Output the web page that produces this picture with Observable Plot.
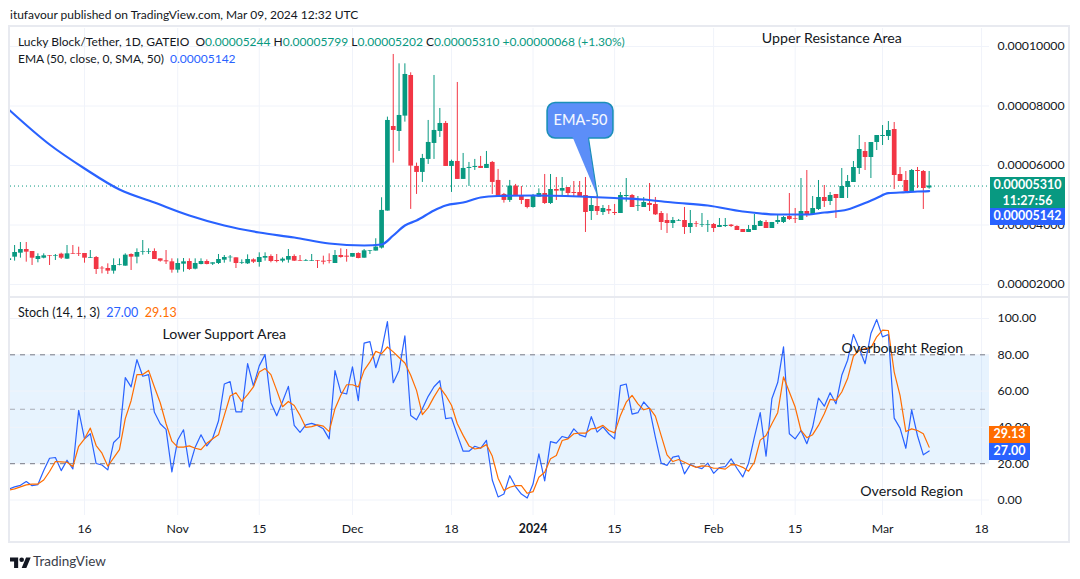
<!DOCTYPE html>
<html><head><meta charset="utf-8">
<script src="https://cdn.jsdelivr.net/npm/d3@7"></script>
<script src="https://cdn.jsdelivr.net/npm/@observablehq/plot@0.6"></script>
<style>
html,body{margin:0;padding:0;background:#fff}
#page{position:relative;width:1080px;height:579px;overflow:hidden;font-family:Lato,sans-serif;color:#131722;font-size:12px}
#page svg{position:absolute;left:0;overflow:visible;background:transparent}
.t{position:absolute;white-space:pre;line-height:16px}
.g{color:#089981}.b{color:#2962ff}.o{color:#ff6d00}
.frame{position:absolute;background:#e8eaf0}
.tag{position:absolute;color:#fff;text-align:center;font-weight:700;line-height:16px;font-size:12.5px}
</style></head><body><div id="page"></div>
<script>
// Prices in units of 1e-5 USDT, one value per day from 2023-10-03 to 2024-03-09
const opens=[2.807,2.919,3.053,3.177,3.109,2.841,2.885,2.975,2.953,3.020,
2.852,3.042,3.042,3.042,2.874,2.908,2.549,2.538,2.449,2.650,
2.617,3.009,2.919,3.087,3.087,3.109,2.863,2.796,2.762,2.482,
2.684,2.773,2.516,2.673,2.773,2.684,2.706,2.818,2.897,2.897,
2.706,2.695,2.829,2.740,2.885,2.941,2.807,2.785,2.818,2.941,
2.807,2.785,2.785,2.807,2.785,2.796,2.706,2.975,2.953,2.919,
3.042,2.885,3.121,3.124,3.224,4.468,7.312,7.144,7.660,9.026,
5.968,5.767,6.204,6.741,7.144,7.413,5.968,6.136,5.532,5.901,
5.935,5.968,5.901,6.103,5.498,5.028,4.826,5.308,4.992,4.858,
4.589,4.936,5.059,4.723,5.194,5.138,5.261,5.093,5.093,4.992,
4.454,4.622,4.421,4.522,4.421,4.387,4.958,4.992,4.634,4.589,
4.723,4.690,4.387,4.152,4.051,4.130,4.152,3.917,4.051,3.995,
3.995,4.018,3.917,3.950,3.995,3.950,3.850,3.749,3.816,3.950,
4.085,3.883,4.085,4.085,4.286,4.219,4.152,4.454,4.354,4.522,
4.925,4.790,5.026,4.891,5.261,5.429,5.899,6.470,6.269,6.773,
6.974,6.974,7.210,5.698,5.496,5.126,5.832,5.798,5.244];
const closes=[2.863,3.076,3.177,3.087,2.885,2.941,2.964,2.953,2.975,2.885,
3.031,3.020,3.020,2.885,2.897,2.505,2.527,2.449,2.639,2.673,
2.986,2.919,3.076,3.109,3.109,2.841,2.785,2.762,2.482,2.706,
2.762,2.505,2.706,2.773,2.673,2.729,2.841,2.908,2.919,2.706,
2.729,2.841,2.751,2.908,2.941,2.773,2.773,2.852,2.941,2.785,
2.785,2.807,2.807,2.785,2.751,2.773,2.975,2.908,2.919,3.042,
2.874,3.132,3.143,3.258,4.490,7.514,7.178,7.682,9.060,5.980,
5.767,6.237,6.775,7.178,7.413,5.968,6.136,5.532,5.901,5.935,
5.968,5.901,6.036,5.431,4.960,4.826,5.308,4.960,4.824,4.589,
4.970,5.059,4.723,5.194,5.138,5.227,5.059,5.059,4.958,4.421,
4.656,4.454,4.555,4.466,4.387,4.992,4.992,4.589,4.656,4.757,
4.656,4.342,4.085,4.051,4.152,4.152,3.917,4.051,4.029,4.018,
4.018,3.883,3.984,3.984,3.950,3.816,3.749,3.850,3.984,4.118,
3.883,4.085,4.152,4.253,4.186,4.197,4.454,4.320,4.555,4.925,
4.790,4.992,4.891,5.294,5.462,5.933,6.538,6.269,6.773,7.008,
7.008,7.176,5.664,5.462,5.126,5.832,5.798,5.227,5.310];
const highs=[2.919,3.311,3.412,3.412,3.109,3.031,3.031,2.975,3.009,3.053,
3.311,3.311,3.255,3.042,3.143,2.941,2.605,2.695,2.863,2.863,
3.031,3.031,3.199,3.479,3.199,3.199,2.863,3.143,2.863,2.863,
2.874,2.863,2.863,2.863,2.829,2.729,3.009,2.975,2.975,2.897,
2.829,2.997,2.863,3.065,3.065,2.997,3.009,2.897,3.177,2.997,
2.975,2.841,3.009,2.807,2.953,3.031,3.143,3.199,3.177,3.042,
3.065,3.177,3.143,3.538,4.916,7.626,9.732,9.418,9.418,9.116,
6.080,6.372,7.514,9.026,7.917,7.480,6.181,8.791,6.405,6.103,
6.204,6.304,6.472,6.136,5.868,5.061,5.498,5.364,5.294,4.858,
5.026,5.216,5.698,5.698,5.597,5.597,5.261,5.462,5.462,5.597,
4.891,4.992,4.656,4.656,4.690,5.093,5.563,5.026,4.958,4.925,
5.395,4.925,4.454,4.376,4.253,4.186,4.589,4.488,4.118,4.387,
4.152,4.051,4.219,4.219,4.018,3.973,3.850,3.984,4.354,4.152,
4.152,4.085,4.354,4.286,5.059,4.555,5.563,5.832,4.958,5.496,
5.328,5.093,5.026,5.899,5.664,6.134,7.008,6.773,6.773,7.008,
7.344,7.478,7.445,5.933,5.798,5.866,5.933,5.832,5.799];
const lows=[2.785,2.785,2.885,2.751,2.639,2.729,2.863,2.639,2.807,2.841,
2.841,3.009,2.941,2.717,2.874,2.337,2.359,2.337,2.348,2.628,
2.617,2.471,2.695,2.986,3.009,2.841,2.751,2.673,2.381,2.381,
2.415,2.471,2.493,2.661,2.661,2.639,2.673,2.717,2.751,2.538,
2.673,2.673,2.706,2.583,2.785,2.729,2.729,2.729,2.717,2.773,
2.773,2.773,2.773,2.538,2.661,2.695,2.706,2.885,2.751,2.919,
2.863,2.885,3.009,3.124,3.191,4.468,6.080,6.472,7.458,4.524,
5.028,5.431,6.036,6.204,6.943,5.968,5.095,5.532,5.532,5.296,
5.834,5.901,5.901,5.028,4.960,4.736,4.759,4.960,4.690,4.544,
4.566,4.936,4.690,4.690,4.824,4.958,4.958,4.958,4.958,3.749,
4.152,4.320,4.320,4.354,4.320,4.387,4.768,4.589,4.454,4.589,
4.454,4.320,3.816,3.715,3.883,4.118,3.682,3.715,3.917,3.917,
3.749,3.749,3.917,3.917,3.917,3.816,3.749,3.749,3.816,3.950,
3.883,3.883,4.018,4.051,4.152,4.051,4.152,4.253,4.354,4.488,
4.589,4.656,4.219,4.891,4.891,5.429,5.698,5.832,5.563,6.504,
6.672,6.840,5.194,5.462,5.059,5.126,5.227,4.522,5.202];
// EMA-50 read at selected days (day number counted from 2023-10-03)
const emaDays=[0,7,13,19,25,31,37,43,49,55,61,64,66,68,70,73,75,78,81,84,90,98,104,109,114,120,126,132,137,140,144,147,149,151,154,156,158];
const emaValues=[7.882,6.706,5.899,5.193,4.756,4.319,3.983,3.748,3.580,3.378,3.311,3.345,3.647,3.983,4.151,4.487,4.655,4.756,4.924,4.975,4.992,4.958,4.908,4.857,4.756,4.655,4.454,4.353,4.353,4.420,4.521,4.739,4.908,5.069,5.102,5.126,5.142];
// Stochastic %K and %D, one value per day
const stochK=[6.1,7.2,8.1,10.2,7.9,8.5,16.2,23.0,23.4,16.2,
21.9,17.1,49.4,33.7,36.5,20.1,19.3,16.6,31.7,34.8,
67.4,62.3,77.3,68.2,69.1,48.3,42.0,38.9,15.5,33.1,
38.7,18.2,29.1,35.9,29.8,34.0,43.5,63.9,65.2,48.6,
48.6,75.1,62.8,73.9,80.1,53.6,46.4,54.3,62.6,41.1,
37.2,41.4,42.2,41.1,39.2,33.7,71.3,59.3,58.4,73.3,
54.7,86.4,87.3,72.9,82.5,98.3,64.6,71.4,90.4,46.6,
44.2,50.3,57.1,62.4,65.7,44.8,45.3,35.9,26.9,26.9,
29.6,28.5,32.9,11.0,1.7,3.3,13.4,7.4,3.3,1.1,
8.8,25.4,10.5,32.2,31.3,35.0,34.1,39.2,35.9,34.8,
45.9,37.4,40.3,36.5,33.7,63.0,63.9,47.3,48.1,54.0,
50.3,34.6,20.3,19.1,23.6,24.3,14.4,19.5,18.2,17.3,
20.3,14.7,17.9,18.4,22.7,17.5,12.7,20.3,34.6,48.1,
24.1,55.8,64.7,84.4,36.5,33.7,38.3,31.0,40.2,56.2,
51.7,59.1,53.0,68.7,77.0,91.2,83.4,75.1,91.7,99.4,
89.9,91.2,45.1,39.6,28.5,49.7,35.4,24.9,27.0];
const stochD=[5.5,6.1,7.2,8.3,8.7,8.8,11.0,15.7,21.2,21.0,
20.8,18.4,29.6,33.7,39.6,30.0,25.8,18.6,23.2,27.8,
44.8,54.7,69.1,69.1,71.4,62.3,53.6,42.0,32.4,29.1,
29.1,29.8,28.5,27.8,31.3,33.7,35.9,46.6,57.3,59.1,
54.3,58.0,62.3,70.5,72.4,69.1,60.4,51.4,54.3,52.1,
46.6,40.0,40.4,41.4,40.7,37.7,50.3,57.7,63.5,63.5,
62.3,71.4,76.1,81.9,80.6,84.3,81.6,78.5,75.5,68.7,
60.4,47.0,50.9,56.8,62.0,57.7,52.2,42.0,35.6,29.8,
28.1,28.7,30.5,24.2,12.0,5.2,7.0,7.9,7.9,3.7,
4.6,12.5,15.3,22.7,24.5,32.8,33.7,36.5,36.8,36.8,
39.2,39.6,41.1,38.3,37.0,46.6,53.9,57.6,53.0,49.7,
50.6,46.2,35.5,24.9,21.2,22.3,20.8,19.3,18.0,18.8,
18.6,17.5,17.5,17.0,19.5,19.3,18.0,15.9,20.8,33.0,
35.5,42.0,48.1,67.8,59.5,51.2,38.3,34.3,36.0,41.1,
47.5,55.4,54.9,59.5,66.9,79.2,82.5,83.4,83.8,89.9,
93.6,93.4,70.5,57.6,37.7,39.2,38.3,36.5,29.13];
const xTickDates=["2023-10-16","2023-11-01","2023-11-15","2023-12-01","2023-12-18","2024-01-01","2024-01-15","2024-02-01","2024-02-15","2024-03-01","2024-03-18"];
const xTickLabels=["16","Nov","15","Dec","18","2024","15","Feb","15","Mar","18"];
const priceTicks=[2,4,6,8,10];
const stochTicks=[0,20,40,60,80,100];

const GREEN="#089981",RED="#f23645",BLUE="#2962ff",ORANGE="#ff6d00",GRID="#f0f3fa";
const FONT='Lato,sans-serif';
const DAY=864e5, start=Date.UTC(2023,9,3);
const day=n=>new Date(start+n*DAY);
const tickD=xTickDates.map(s=>new Date(s+"T00:00:00Z"));
const xDomain=[day(0.296),day(168.36)];
const candles=opens.map((o,i)=>({date:day(i),o,c:closes[i],h:highs[i],l:lows[i]}));
const color=d=>d.c>=d.o?GREEN:RED;
const ema=emaDays.map((d,i)=>({date:day(d),v:emaValues[i]}));
const stoch=stochK.map((k,i)=>({date:day(i),k,d:stochD[i]}));
const tail=[{n:96.8,p:6.95},{n:99.5,p:6.95},{n:101.07,p:4.958}];
const page=document.getElementById("page");

const upper=Plot.plot({
  width:1080,height:270,marginTop:2,marginBottom:0,marginLeft:10,marginRight:91,
  x:{type:"utc",domain:xDomain,axis:null},
  y:{domain:[1.597,10.605],axis:null},
  style:{fontFamily:FONT,fontSize:"12.3px",color:"#131722"},
  marks:[
    Plot.ruleX(tickD,{x:d=>d,stroke:GRID,strokeWidth:1}),
    Plot.ruleY(priceTicks,{stroke:GRID,strokeWidth:1}),
    Plot.axisY(priceTicks,{anchor:"right",tickSize:0,tickPadding:8,tickFormat:d=>(d*1e-5).toFixed(8),label:null,fill:"#131722"}),
    Plot.ruleY([5.31],{stroke:GREEN,strokeWidth:1,strokeDasharray:"1 3"}),
    Plot.ruleX(candles,{x:"date",y1:"l",y2:"h",stroke:color,strokeWidth:1,clip:true}),
    Plot.ruleX(candles,{x:"date",y1:"o",y2:"c",stroke:color,strokeWidth:4.7,clip:true}),
    Plot.line(ema,{x:"date",y:"v",stroke:BLUE,strokeWidth:2.2,curve:"monotone-x",clip:true}),
    Plot.line(tail,{x:d=>day(d.n),y:"p",fill:"#5c8ef8",stroke:"#1b8fb8",strokeWidth:1.2}),
    Plot.rect([0],{x1:()=>day(92.5),x2:()=>day(103.8),y1:()=>6.908,y2:()=>8.1,fill:"#5c8ef8",stroke:"#1b8fb8",strokeWidth:1.6,rx:8,ry:8}),
    Plot.line([{n:97,p:6.93},{n:99.3,p:6.93}],{x:d=>day(d.n),y:"p",stroke:"#5c8ef8",strokeWidth:2.5}),
    Plot.text([0],{x:()=>day(98.15),y:()=>7.52,text:()=>"EMA-50",fill:"#f2f6ff",fontSize:14.5,fontWeight:500}),
    Plot.text([0],{x:()=>day(141.3),y:()=>10.27,text:()=>"Upper Resistance Area",fill:"#131722",fontSize:14.2})
  ]
});
upper.style.top="26px";

const lower=Plot.plot({
  width:1080,height:244,marginTop:0,marginBottom:27,marginLeft:10,marginRight:91,
  x:{type:"utc",domain:xDomain,axis:null},
  y:{domain:[-8.54,111.02],axis:null},
  style:{fontFamily:FONT,fontSize:"12.3px",color:"#131722"},
  marks:[
    Plot.ruleX(tickD,{x:d=>d,stroke:GRID,strokeWidth:1}),
    Plot.rect([0],{x1:()=>xDomain[0],x2:()=>xDomain[1],y1:()=>20,y2:()=>80,fill:"#2196f3",fillOpacity:0.11}),
    Plot.ruleY(stochTicks,{stroke:GRID,strokeWidth:1}),
    Plot.ruleY([20,80],{stroke:"#787b86",strokeWidth:1,strokeDasharray:"5 5"}),
    Plot.ruleY([50],{stroke:"#a9acb5",strokeWidth:1,strokeDasharray:"5 5"}),
    Plot.axisY(stochTicks,{anchor:"right",tickSize:0,tickPadding:8,tickFormat:d=>d.toFixed(2),label:null,fill:"#131722"}),
    Plot.axisX(tickD.filter((_,i)=>xTickLabels[i]!=="2024"),{anchor:"bottom",tickSize:0,tickPadding:9,label:null,tickFormat:d=>xTickLabels[tickD.findIndex(t=>+t===+d)],fill:"#131722"}),
    Plot.axisX(tickD.filter((_,i)=>xTickLabels[i]==="2024"),{anchor:"bottom",tickSize:0,tickPadding:9,label:null,tickFormat:d=>"2024",fontWeight:"bold",fill:"#131722"}),
    Plot.line(stoch,{x:"date",y:"k",stroke:BLUE,strokeWidth:1.2,clip:true}),
    Plot.line(stoch,{x:"date",y:"d",stroke:ORANGE,strokeWidth:1.2,clip:true}),
    Plot.text([0],{x:()=>day(37),y:()=>91.2,text:()=>"Lower Support Area",fill:"#131722",fontSize:14.2}),
    Plot.text([0],{x:()=>day(153.4),y:()=>83.5,text:()=>"Overbought Region",fill:"#131722",fontSize:14.2}),
    Plot.text([0],{x:()=>day(155),y:()=>4.7,text:()=>"Oversold Region",fill:"#131722",fontSize:14.2})
  ]
});
lower.style.top="298px";

function box(l,t,w,h,c){const e=document.createElement("div");e.className="frame";e.style.cssText=`left:${l}px;top:${t}px;width:${w}px;height:${h}px;background:${c||"#e8eaf0"}`;page.appendChild(e);}
box(8,25,1062,2);box(8,541,1062,2);box(8,25,2,518);box(1068,25,2,518);box(10,296,1060,2);
page.appendChild(upper);page.appendChild(lower);

function text(l,t,html,extra){const e=document.createElement("div");e.className="t";e.style.cssText=`left:${l}px;top:${t}px;${extra||""}`;e.innerHTML=html;page.appendChild(e);return e;}
text(10,7,"itufavour published on TradingView.com, Mar 09, 2024 12:32 UTC");
text(18,34,'Lucky Block/Tether, 1D, GATEIO  O<span class="g">0.00005244</span> H<span class="g">0.00005799</span> L<span class="g">0.00005202</span> C<span class="g">0.00005310</span> <span class="g">+0.00000068 (+1.30%)</span>');
text(18,51,'EMA (50, close, 0, SMA, 50)  <span class="b">0.00005142</span>');
text(18,305,'Stoch (14, 1, 3)  <span class="b">27.00</span>  <span class="o">29.13</span>',"font-size:12.5px");
function tag(l,t,w,h,c,html){const e=document.createElement("div");e.className="tag";e.style.cssText=`left:${l}px;top:${t}px;width:${w}px;height:${h}px;background:${c}`;e.innerHTML=html;page.appendChild(e);}
tag(990,177,75,31,GREEN,'0.00005310<br>11:27:56');
tag(990,208,75,17,BLUE,'0.00005142');
tag(989,426,41,17,ORANGE,'29.13');
tag(989,443,41,17,BLUE,'27.00');
const logo=document.createElementNS("http://www.w3.org/2000/svg","svg");
logo.setAttribute("viewBox","0 0 36 22");logo.setAttribute("width","21");logo.setAttribute("height","13");
logo.style.cssText="left:10px;top:555px;";
logo.innerHTML='<path fill="#131722" d="M14 22H7V11H0V4h14v18zM28 22h-8l7.5-18h8L28 22z"/><circle fill="#131722" cx="20" cy="8" r="4"/>';
page.appendChild(logo);
text(33,553,"TradingView","font-size:13.5px;color:#3a3e49");
</script></body></html>
